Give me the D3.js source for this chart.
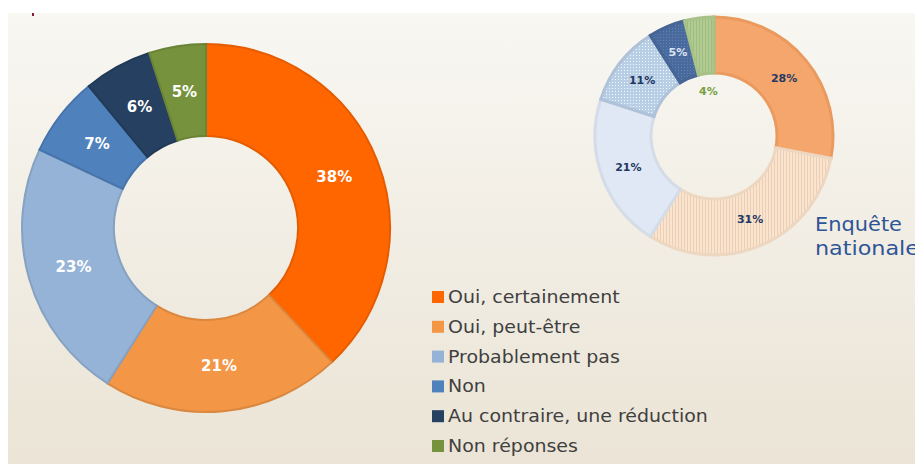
<!DOCTYPE html>
<html>
<head>
<meta charset="utf-8">
<script src="https://cdn.jsdelivr.net/npm/d3@7"></script>
<style>
  body { margin: 0; background: #fff; overflow: hidden; }
  svg { display: block; }
</style>
</head>
<body>
<div id="chart"></div>
<script>
// donnees
var categories = ["Oui, certainement", "Oui, peut-être", "Probablement pas", "Non", "Au contraire, une réduction", "Non réponses"];
var valuesLocal = [38, 21, 23, 7, 6, 5];
var valuesNational = [28, 31, 21, 11, 5, 4];
var colorsLocal = ["#ff6600", "#f39646", "#95b3d7", "#4f81bd", "#254061", "#76923c"];
var colorsNational = ["#f5a66d", "#fbe3cc", "#dfe8f4", "#b9cde5", "#4a6a9c", "#b0cc90"];
var nationalTitle = ["Enquête", "nationale"];

var width = 915, height = 464;

var svg = d3.select("#chart").append("svg")
    .attr("width", width)
    .attr("height", height);

var defs = svg.append("defs");
var grad = defs.append("linearGradient")
    .attr("id", "bg").attr("x1", 0).attr("y1", 0).attr("x2", 0).attr("y2", 1);
grad.append("stop").attr("offset", "0%").attr("stop-color", "#f8f7f2");
grad.append("stop").attr("offset", "100%").attr("stop-color", "#ebe4d6");

// motifs pour le petit anneau
var patterns = [null, "vlines", null, "dots", "dots", "vlines"];
colorsNational.forEach(function(c, i) {
  if (!patterns[i]) return;
  var p = defs.append("pattern")
      .attr("id", "pat" + i)
      .attr("patternUnits", "userSpaceOnUse")
      .attr("width", 3).attr("height", 3);
  p.append("rect").attr("width", 3).attr("height", 3).attr("fill", c);
  if (patterns[i] == "vlines") {
    p.append("rect").attr("width", 1).attr("height", 3)
      .attr("fill", d3.color(c).darker(0.25));
  } else {
    p.append("rect").attr("width", 1).attr("height", 1)
      .attr("fill", d3.color(c).brighter(0.6));
  }
});

svg.append("rect")
    .attr("x", 8).attr("y", 13)
    .attr("width", width - 8).attr("height", height - 13)
    .attr("fill", "url(#bg)");

svg.append("rect").attr("x", 32).attr("y", 13).attr("width", 2).attr("height", 3).attr("fill", "#8b1a3a");

var pie = d3.pie().sort(null).value(function(d) { return d; });

// grand anneau
var arcBig = d3.arc().innerRadius(92).outerRadius(184);
var big = svg.append("g").attr("transform", "translate(206,228)");

big.selectAll("path")
    .data(pie(valuesLocal))
  .enter().append("path")
    .attr("d", arcBig)
    .attr("fill", function(d, i) { return colorsLocal[i]; })
    .attr("stroke", function(d, i) { return d3.color(colorsLocal[i]).darker(0.3); })
    .attr("stroke-width", 2);

var labelArcBig = d3.arc().innerRadius(138).outerRadius(138);
big.selectAll("text")
    .data(pie(valuesLocal))
  .enter().append("text")
    .attr("transform", function(d) { return "translate(" + labelArcBig.centroid(d) + ")"; })
    .attr("text-anchor", "middle")
    .attr("dy", "0.35em")
    .attr("fill", "#fff")
    .style("font-family", "'DejaVu Sans', sans-serif")
    .style("font-weight", "bold")
    .style("font-size", "15px")
    .text(function(d) { return d.value + "%"; });

// petit anneau
var arcSmall = d3.arc().innerRadius(63).outerRadius(119);
var small = svg.append("g").attr("transform", "translate(714,136)");

small.selectAll("path")
    .data(pie(valuesNational))
  .enter().append("path")
    .attr("d", arcSmall)
    .attr("fill", function(d, i) { return patterns[i] ? "url(#pat" + i + ")" : colorsNational[i]; })
    .attr("stroke", function(d, i) { return i == 0 ? "#eb9a5e" : d3.color(colorsNational[i]).darker(0.15); })
    .attr("stroke-width", 3);

var labelArcSmall = d3.arc().innerRadius(91).outerRadius(91);
small.selectAll("text")
    .data(pie(valuesNational))
  .enter().append("text")
    .attr("transform", function(d, i) {
      if (i == valuesNational.length - 1) {
        var a = (d.startAngle + d.endAngle) / 2;
        return "translate(" + [45 * Math.sin(a), -45 * Math.cos(a)] + ")";
      }
      return "translate(" + labelArcSmall.centroid(d) + ")";
    })
    .attr("text-anchor", "middle")
    .attr("dy", "0.35em")
    .attr("fill", function(d, i) { return i == valuesNational.length - 1 ? "#77a040" : (i == 4 ? "#dde6f2" : "#1f3864"); })
    .style("font-family", "'DejaVu Sans', sans-serif")
    .style("font-weight", "bold")
    .style("font-size", "11px")
    .text(function(d) { return d.value + "%"; });

// titre "Enquête nationale" (police large, etiree comme Century Gothic)
var titleWidths = [87, 104];
svg.append("g").selectAll("text")
    .data(nationalTitle)
  .enter().append("text")
    .attr("x", 815)
    .attr("y", function(d, i) { return 231 + i * 24; })
    .attr("fill", "#2e5596")
    .attr("textLength", function(d, i) { return titleWidths[i]; })
    .attr("lengthAdjust", "spacingAndGlyphs")
    .style("font-family", "'DejaVu Sans', sans-serif")
    .style("font-size", "20px")
    .text(function(d) { return d; });

// legende
var legend = svg.append("g").attr("transform", "translate(432,297)");
var rows = legend.selectAll("g")
    .data(categories)
  .enter().append("g")
    .attr("transform", function(d, i) { return "translate(0," + (i * 29.8) + ")"; });

rows.append("rect")
    .attr("x", 0).attr("y", -6)
    .attr("width", 12).attr("height", 12)
    .attr("fill", function(d, i) { return colorsLocal[i]; });

rows.append("text")
    .attr("x", 16)
    .attr("dy", "0.35em")
    .attr("fill", "#404040")
    .style("font-family", "'DejaVu Sans', sans-serif")
    .style("font-size", "17px")
    .text(function(d) { return d; })
    .each(function() {
      var w = this.getComputedTextLength();
      d3.select(this)
        .attr("textLength", w * 1.115)
        .attr("lengthAdjust", "spacingAndGlyphs");
    });
</script>
</body>
</html>
